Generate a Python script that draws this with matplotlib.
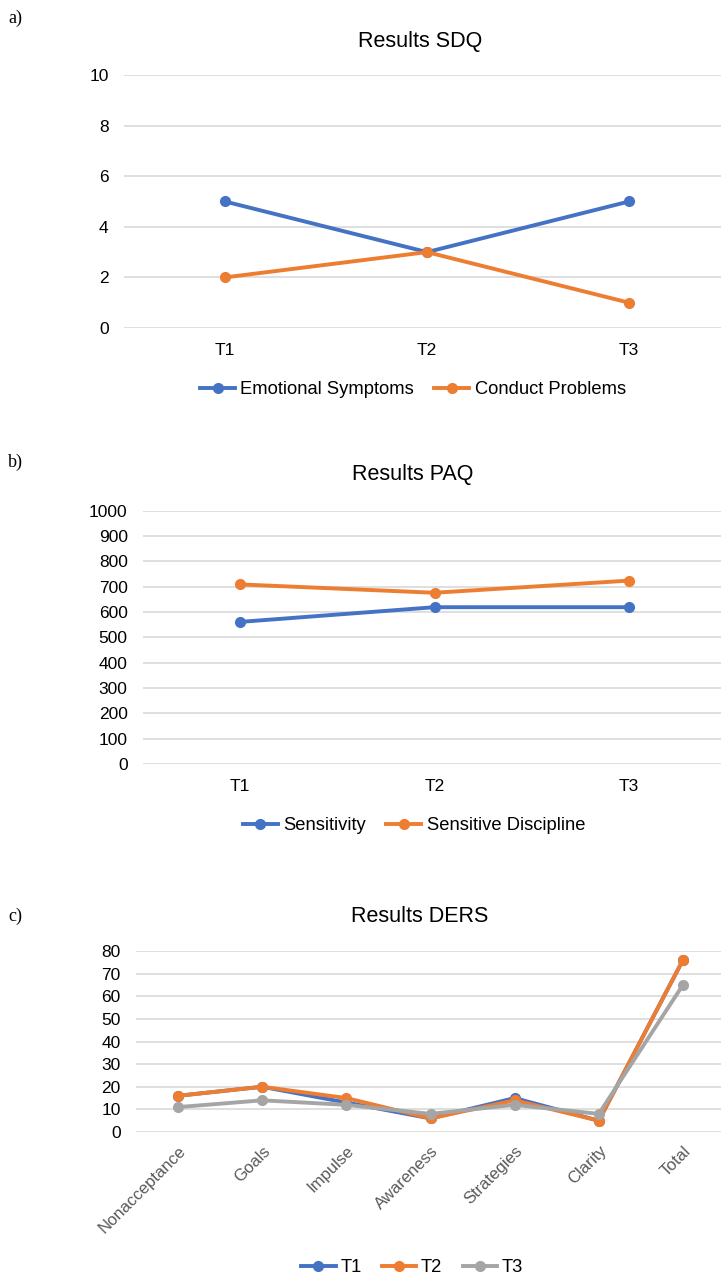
import matplotlib
matplotlib.use("Agg")
import matplotlib.pyplot as plt
from matplotlib.lines import Line2D

plt.rcParams['font.family'] = ['Liberation Sans', 'DejaVu Sans']

# ---- data ----
sdq_times = ["T1", "T2", "T3"]
sdq_emotional = [5, 3, 5]
sdq_conduct = [2, 3, 1]
sdq_series = ["Emotional Symptoms", "Conduct Problems"]

paq_times = ["T1", "T2", "T3"]
paq_sensitivity = [561, 619, 619]
paq_discipline = [709, 676, 724]
paq_series = ["Sensitivity", "Sensitive Discipline"]

ders_cats = ["Nonacceptance", "Goals", "Impulse", "Awareness", "Strategies", "Clarity", "Total"]
ders_t1 = [16, 20, 13, 6, 15, 5, 76]
ders_t2 = [16, 20, 15, 6, 14, 5, 76]
ders_t3 = [11, 14, 12, 8, 12, 8, 65]
ders_series = ["T1", "T2", "T3"]

BLUE = "#4472C4"
ORANGE = "#ED7D31"
GRAY = "#A5A5A5"
GRID = "#D9D9D9"

W, H = 721, 1278
fig = plt.figure(figsize=(W / 100, H / 100), dpi=100)

TICK_FS = 12.5
LEG_FS = 13.2
TITLE_FS = 15.5


def add_ax(left, right, top, bottom):
    return fig.add_axes([left / W, 1 - bottom / H, (right - left) / W, (bottom - top) / H])


def style(ax, ymax, step):
    ax.set_ylim(0, ymax)
    ax.set_yticks(range(0, ymax + 1, step))
    ax.grid(axis='y', color=GRID, lw=1.2)
    ax.set_axisbelow(True)
    for s in ax.spines.values():
        s.set_visible(False)
    ax.tick_params(length=0, labelsize=TICK_FS, colors="#000000", pad=11)
    ax.set_facecolor("none")


lw = 2.8
ms = 7

leg_kw = dict(frameon=False, fontsize=LEG_FS, handlelength=1.9, handletextpad=0.3,
              columnspacing=1.1, loc='center')

# ---- panel a ----
ax1 = add_ax(124, 730, 75, 328)
x = range(len(sdq_times))
ax1.plot(x, sdq_emotional, color=BLUE, lw=lw, marker='o', ms=ms, clip_on=False)
ax1.plot(x, sdq_conduct, color=ORANGE, lw=lw, marker='o', ms=ms, clip_on=False)
ax1.set_xlim(-0.5, len(sdq_times) - 0.5)
ax1.set_xticks(list(x))
ax1.set_xticklabels(sdq_times)
style(ax1, 10, 2)
fig.text(420 / W, 1 - 42 / H, "Results SDQ", ha='center', va='center', fontsize=TITLE_FS)
fig.text(8 / W, 1 - 18 / H, "a)", ha='left', va='center', fontsize=13, family='Liberation Serif')
h = [Line2D([], [], color=c, lw=lw, marker='o', ms=ms) for c in (BLUE, ORANGE)]
fig.legend(h, sdq_series, bbox_to_anchor=(413 / W, 1 - 390 / H), ncol=2, **leg_kw)

# ---- panel b ----
ax2 = add_ax(143, 726, 510.7, 764)
x = range(len(paq_times))
ax2.plot(x, paq_sensitivity, color=BLUE, lw=lw, marker='o', ms=ms)
ax2.plot(x, paq_discipline, color=ORANGE, lw=lw, marker='o', ms=ms)
ax2.set_xlim(-0.5, len(paq_times) - 0.5)
ax2.set_xticks(list(x))
ax2.set_xticklabels(paq_times)
style(ax2, 1000, 100)
fig.text(413 / W, 1 - 475 / H, "Results PAQ", ha='center', va='center', fontsize=TITLE_FS)
fig.text(8 / W, 1 - 462 / H, "b)", ha='left', va='center', fontsize=13, family='Liberation Serif')
fig.legend(h, paq_series, bbox_to_anchor=(414 / W, 1 - 826 / H), ncol=2, **leg_kw)

# ---- panel c ----
ax3 = add_ax(136, 725, 951, 1132)
x = range(len(ders_cats))
for vals, c in zip((ders_t1, ders_t2, ders_t3), (BLUE, ORANGE, GRAY)):
    ax3.plot(x, vals, color=c, lw=lw, marker='o', ms=ms, clip_on=False)
ax3.set_xlim(-0.5, len(ders_cats) - 0.5)
ax3.set_xticks(list(x))
ax3.set_xticklabels(ders_cats, rotation=45, ha='right', rotation_mode='anchor')
style(ax3, 80, 10)
ax3.tick_params(axis='x', pad=8, colors="#595959", labelsize=12)
fig.text(420 / W, 1 - 916 / H, "Results DERS", ha='center', va='center', fontsize=TITLE_FS)
fig.text(8 / W, 1 - 916 / H, "c)", ha='left', va='center', fontsize=13, family='Liberation Serif')
h3 = [Line2D([], [], color=c, lw=lw, marker='o', ms=ms) for c in (BLUE, ORANGE, GRAY)]
fig.legend(h3, ders_series, bbox_to_anchor=(412 / W, 1 - 1268 / H), ncol=3,
           **{**leg_kw, 'handletextpad': 0.25, 'columnspacing': 1.1})

fig.savefig("out.png", dpi=100, facecolor="white")
